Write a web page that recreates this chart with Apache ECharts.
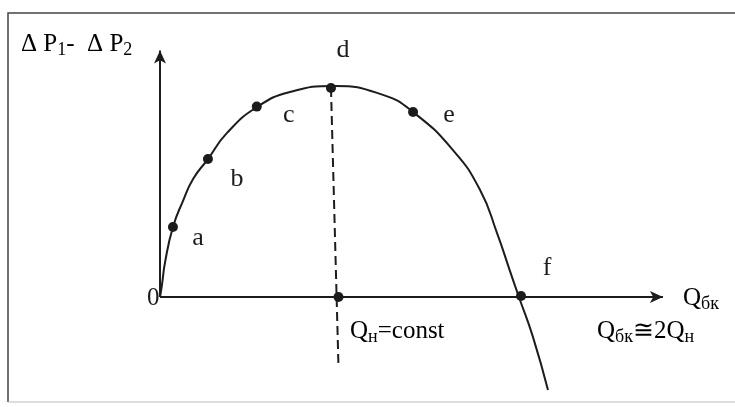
<!DOCTYPE html>
<html>
<head>
<meta charset="utf-8">
<script src="https://cdn.jsdelivr.net/npm/echarts@6/dist/echarts.min.js"></script>
<style>
  html, body { margin: 0; padding: 0; background: #fff; }
  #chart { width: 735px; height: 407px; }
</style>
</head>
<body>
<div id="chart"></div>
<script>
// x в долях Qн, y в долях максимума ΔP1-ΔP2
const curveX = [0, 0.011, 0.029, 0.074, 0.131, 0.189, 0.274, 0.383, 0.554, 0.743, 1.0, 1.274, 1.446, 1.674, 1.829, 1.926, 2.0, 2.051, 2.131, 2.217]
const curveY = [0, 0.057, 0.167, 0.335, 0.459, 0.565, 0.66, 0.785, 0.909, 0.981, 1.01, 0.967, 0.885, 0.703, 0.512, 0.306, 0.124, 0.0, -0.191, -0.445]

const pointNames = ['a', 'b', 'c', 'd', 'e', 'f']
const pointX = [0.074, 0.274, 0.553, 0.977, 1.446, 2.063]
const pointY = [0.335, 0.66, 0.911, 1.0, 0.885, 0.005]

const qnX = 1.02          // Qн=const на оси
const dashX = [0.977, 1.02]
const dashY = [1.0, -0.335]

const axisEndX = 2.874
const axisEndY = 1.18

// раскладка: пиксели начала координат и масштаб
const W = 735, H = 407
const OX = 160, OY = 297
const SX = 175, SY = 209

const ink = '#1c1c1c'
const font = '"Liberation Serif", "DejaVu Serif", serif'
const labelOffsets = [[25, 11], [29, 20], [32, 9], [12, -38], [36, 3], [26, -28]]

const big = { fontSize: 25, fontFamily: font, color: ink }
const sub = { fontSize: 18, fontFamily: font, color: ink, padding: [11, 0, 0, 0] }

const chart = echarts.init(document.getElementById('chart'))

chart.setOption({
  backgroundColor: '#fff',
  animation: false,
  grid: { left: 0, right: 0, top: 0, bottom: 0 },
  xAxis: { type: 'value', min: -OX / SX, max: (W - OX) / SX, show: false },
  yAxis: { type: 'value', min: (OY - H) / SY, max: OY / SY, show: false },
  graphic: [
    {
      type: 'polyline',
      shape: { points: [[740, 13], [8, 13], [8, 402]] },
      style: { stroke: '#444', lineWidth: 1.5, fill: null }
    },
    {
      type: 'line',
      shape: { x1: 8, y1: 402, x2: 740, y2: 402 },
      style: { stroke: '#bbb', lineWidth: 1 }
    },
    {
      type: 'text', left: 21, top: 32,
      style: {
        text: '{m|Δ P}{s|1}{m|-  Δ P}{s|2}',
        rich: { m: big, s: sub }
      }
    },
    {
      type: 'text', left: 147, top: 286,
      style: { text: '0', font: '25px ' + font, fill: ink }
    },
    {
      type: 'text', left: 683, top: 286,
      style: {
        text: '{m|Q}{s|бк}',
        rich: { m: big, s: sub }
      }
    },
    {
      type: 'text', left: 350, top: 319,
      style: {
        text: '{m|Q}{s|н}{m|=const}',
        rich: { m: big, s: sub }
      }
    },
    {
      type: 'text', left: 597, top: 319,
      style: {
        text: '{m|Q}{s|бк}{m|≅2Q}{s|н}',
        rich: { m: big, s: sub }
      }
    }
  ],
  series: [
    {
      name: 'curve',
      type: 'line',
      smooth: 0.5,
      symbol: 'none',
      lineStyle: { color: ink, width: 2 },
      data: curveX.map((x, i) => [x, curveY[i]]),
      markLine: {
        silent: true,
        symbol: ['none', 'arrow'],
        symbolSize: [9, 13],
        label: { show: false },
        lineStyle: { color: ink, width: 2, type: 'solid' },
        data: [
          [{ coord: [0, 0] }, { coord: [axisEndX, 0] }],
          [{ coord: [0, 0] }, { coord: [0, axisEndY] }]
        ]
      }
    },
    {
      name: 'dash',
      type: 'line',
      symbol: 'none',
      lineStyle: { color: ink, width: 2, type: [9, 5] },
      data: dashX.map((x, i) => [x, dashY[i]])
    },
    {
      name: 'points',
      type: 'scatter',
      symbolSize: 10,
      itemStyle: { color: ink, opacity: 1 },
      label: {
        show: true,
        position: 'inside',
        formatter: p => p.name,
        fontFamily: font,
        fontSize: 26,
        color: ink
      },
      data: pointNames.map((n, i) => ({
        name: n,
        value: [pointX[i], pointY[i]],
        label: { offset: labelOffsets[i] }
      }))
    },
    {
      name: 'qn',
      type: 'scatter',
      symbolSize: 10,
      itemStyle: { color: ink, opacity: 1 },
      data: [[qnX, 0]]
    }
  ]
})
</script>
</body>
</html>
